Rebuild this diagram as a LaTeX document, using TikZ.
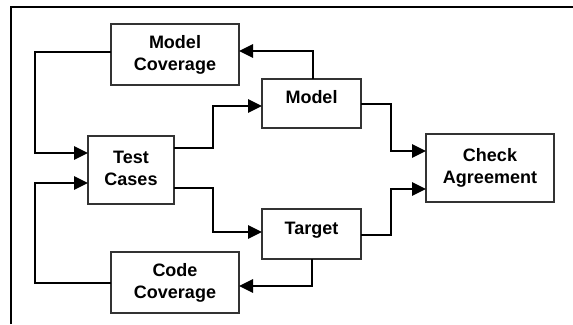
\documentclass[tikz,border=0pt]{standalone}
\usepackage{fontspec}
\setmainfont{Liberation Sans}
\usetikzlibrary{arrows.meta}
\definecolor{boxline}{HTML}{333333}
\tikzset{
  block/.style={draw=boxline, line width=1pt, fill=white, inner sep=0pt, outer sep=0pt,
    align=center, font=\fontsize{13.5}{16.5}\selectfont\bfseries},
  conn/.style={line width=1.5pt, -{Triangle[length=10.5pt,width=10pt]}},
  frame/.style={line width=1.5pt}
}
% single line of text set slightly above the box centre
\newcommand{\upline}[1]{\raisebox{0pt}[0pt][0pt]{#1}}
\begin{document}
\begin{tikzpicture}[x=0.75pt,y=-0.75pt]
  \useasboundingbox (0,0) rectangle (573,324);
  % partial frame: top and left edges
  \draw[frame] (11,324) -- (11,7.5) -- (573,7.5);

  \node[block, minimum width=96pt, minimum height=45.75pt] (mcov) at (175,54.5) {Model\\Coverage};
  \node[block, minimum width=74.25pt, minimum height=36.75pt] (model) at (311.5,103.5) {\upline{Model}};
  \node[block, minimum width=64.5pt, minimum height=51pt] (test) at (131,170) {Test\\Cases\vphantom{g}};
  \node[block, minimum width=74.25pt, minimum height=37.5pt] (target) at (311.5,234) {\upline{Target}};
  \node[block, minimum width=96pt, minimum height=45.75pt] (ccov) at (175,282.5) {Code\\Coverage};
  \node[block, minimum width=96pt, minimum height=51pt] (check) at (490,168) {Check\\Agreement\vphantom{g}};

  % model coverage loop
  \draw[conn] ([xshift=1pt]model.north) |- ([yshift=2.6pt]mcov.east);
  \draw[conn] ([yshift=1.9pt]mcov.west) -- ++(-76,0) |- ([yshift=12.75pt]test.west);
  % test cases to model and target
  \draw[conn] ([yshift=16.5pt]test.east) -- ++(39,0) |- ([yshift=-1.9pt]model.west);
  \draw[conn] ([yshift=-13.5pt]test.east) -- ++(39,0) |- ([yshift=1.5pt]target.west);
  % both outputs compared
  \draw[conn] ([yshift=-0.4pt]model.east) -- ++(30,0) |- ([yshift=12.75pt]check.west);
  \draw[conn] ([yshift=-0.75pt]target.east) -- ++(30,0) |- ([yshift=-15.75pt]check.west);
  % code coverage loop
  \draw[conn] ([xshift=0.4pt]target.south) |- ([yshift=-2.6pt]ccov.east);
  \draw[conn] ([yshift=-0.4pt]ccov.west) -- ++(-76,0) |- ([yshift=-9.75pt]test.west);
\end{tikzpicture}
\end{document}
